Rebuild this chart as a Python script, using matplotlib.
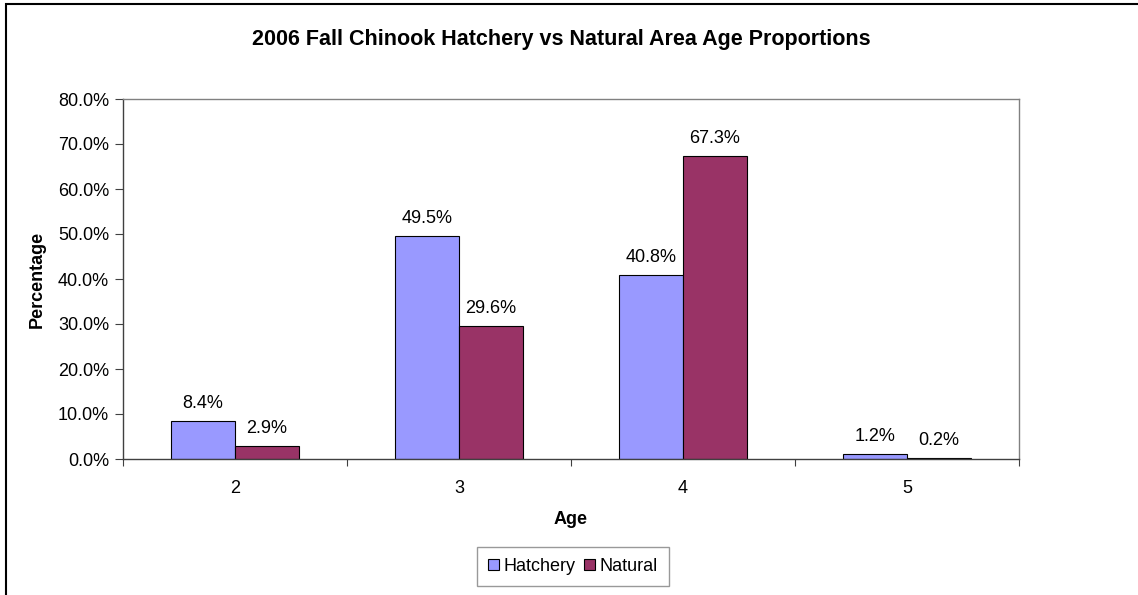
import matplotlib
matplotlib.use("Agg")
import matplotlib.pyplot as plt
import numpy as np
from matplotlib.patches import Rectangle
from matplotlib.ticker import FuncFormatter

plt.rcParams['font.family'] = ['Liberation Sans', 'DejaVu Sans']

categories = ['2', '3', '4', '5']
hatchery = [8.4, 49.5, 40.8, 1.2]
natural = [2.9, 29.6, 67.3, 0.2]
series_names = ['Hatchery', 'Natural']
colors = ['#9999FF', '#993366']

W, H = 1138, 595
FS = 13
fig = plt.figure(figsize=(W / 100, H / 100), dpi=100)
# chart-area frame (only left and top edges fall inside the image)
fig.patches.append(Rectangle((6 / W, -0.05), 1.2, 1.05 - 4 / H,
                             transform=fig.transFigure, fill=False,
                             edgecolor='black', linewidth=1.5, clip_on=False))

left, right, top, bottom = 123, 1019, 99, 459
ax = fig.add_axes([left / W, 1 - bottom / H, (right - left) / W, (bottom - top) / H])

x = np.arange(len(categories))
bw = 1 / 3.5
ax.bar(x - bw / 2, hatchery, bw, color=colors[0], edgecolor='black', linewidth=0.8,
       label=series_names[0])
ax.bar(x + bw / 2, natural, bw, color=colors[1], edgecolor='black', linewidth=0.8,
       label=series_names[1])

for xi, v in zip(x, hatchery):
    ax.text(xi - bw / 2, v + 2.0, f'{v:.1f}%', ha='center', va='bottom', fontsize=FS)
for xi, v in zip(x, natural):
    ax.text(xi + bw / 2, v + 2.0, f'{v:.1f}%', ha='center', va='bottom', fontsize=FS)

ax.set_xlim(-0.5, len(categories) - 0.5)
ax.set_ylim(0, 80)
ax.set_yticks(np.arange(0, 81, 10))
ax.yaxis.set_major_formatter(FuncFormatter(lambda v, p: f'{v:.1f}%'))
ax.set_xticks(np.arange(-0.5, len(categories), 1.0))
ax.set_xticklabels([])
ax.set_xticks(x, minor=True)
ax.set_xticklabels(categories, minor=True)
ax.tick_params(axis='x', which='minor', length=0, labelsize=FS, pad=15)
ax.tick_params(axis='x', which='major', length=5, direction='out', color='#404040')
ax.tick_params(axis='y', length=6, direction='out', labelsize=FS, color='#404040', pad=4)

for s in ax.spines.values():
    s.set_color('#808080')
    s.set_linewidth(1.0)
ax.spines['left'].set_color('#404040')
ax.spines['bottom'].set_color('#404040')

ax.set_ylabel('Percentage', fontsize=FS, fontweight='bold', labelpad=9)
ax.set_xlabel('Age', fontsize=FS, fontweight='bold', labelpad=10)
fig.text(561 / W, 1 - 40 / H,
         '2006 Fall Chinook Hatchery vs Natural Area Age Proportions',
         ha='center', va='center', fontsize=15.5, fontweight='bold')

leg = ax.legend(loc='upper center',
                bbox_to_anchor=((573 - left) / (right - left), -(547 - bottom) / (bottom - top)),
                ncol=2, fontsize=FS, frameon=True, fancybox=False, edgecolor='#808080',
                handlelength=0.6, handleheight=0.6, handletextpad=0.25, columnspacing=0.5,
                borderpad=0.6, borderaxespad=0)
leg.get_frame().set_linewidth(1.0)

fig.savefig('out.png', dpi=100)
